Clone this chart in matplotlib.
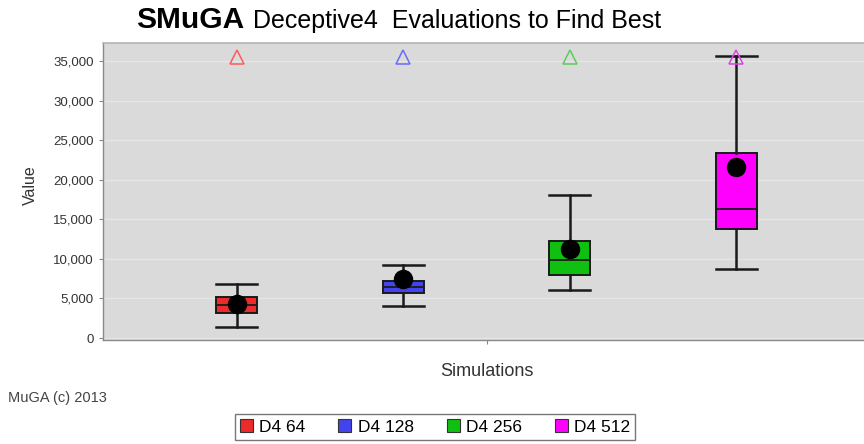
'''
SMuGA Deceptive4 - evaluations to find best, box and whisker chart
'''

import matplotlib
matplotlib.use("Agg")
import matplotlib.pyplot as plt
from matplotlib.patches import Patch
from matplotlib.ticker import FuncFormatter

plt.rcParams['font.family'] = ['Liberation Sans', 'DejaVu Sans']

# series
labels = ["D4 64", "D4 128", "D4 256", "D4 512"]
whislo = [1430, 4040, 6070, 8680]
q1 = [3200, 5650, 7920, 13730]
medians = [4170, 6410, 9860, 16340]
q3 = [5220, 7240, 12300, 23420]
whishi = [6820, 9220, 18030, 35630]
means = [4300, 7420, 11210, 21570]
far_out = [35450, 35450, 35450, 35450]

box_colors = ["#ee2a2a", "#4444ee", "#10c010", "#ff00ff"]
tri_colors = ["#ff5a5a", "#6a6aff", "#5acc5a", "#e040e0"]

fig = plt.figure(figsize=(8.64, 4.44), dpi=100)
ax = fig.add_axes([103 / 864, 104 / 444, 767 / 864, 297 / 444])
ax.set_facecolor("#dadada")

xs = list(range(len(labels)))
stats = []
for i in xs:
    stats.append(dict(label=labels[i], whislo=whislo[i], q1=q1[i], med=medians[i],
                      q3=q3[i], whishi=whishi[i], mean=means[i], fliers=[]))

bp = ax.bxp(stats, positions=xs, widths=0.245, patch_artist=True, showmeans=False,
            boxprops=dict(edgecolor="#1a1a1a", linewidth=1.4),
            medianprops=dict(color="#1a1a1a", linewidth=1.3),
            whiskerprops=dict(color="#1a1a1a", linewidth=1.8),
            capprops=dict(color="#1a1a1a", linewidth=1.8),
            capwidths=0.245, zorder=3)
for patch, c in zip(bp['boxes'], box_colors):
    patch.set_facecolor(c)

# means as black dots
ax.plot(xs, means, 'o', color="black", markersize=13, zorder=5, linestyle="none")

# far out markers
for i in xs:
    ax.plot(xs[i], far_out[i], '^', markersize=10, markerfacecolor="none",
            markeredgecolor=tri_colors[i], markeredgewidth=1.1, zorder=4)

ax.set_xlim(-0.804, 3.804)
ax.set_ylim(-250, 37270)
ax.set_yticks(range(0, 35001, 5000))
ax.yaxis.set_major_formatter(FuncFormatter(lambda v, p: "{:,}".format(int(v))))
ax.set_xticks([1.5])
ax.set_xticklabels([""])
ax.tick_params(axis='both', colors="#888888", labelcolor="#333333", labelsize=9.5,
               length=3, width=0.8)
ax.grid(axis='y', color="#e6e6e6", linewidth=0.9, zorder=0)
ax.set_axisbelow(True)

for side in ["top", "right"]:
    ax.spines[side].set_color("#b4b4b4")
    ax.spines[side].set_linewidth(1.2)
for side in ["left", "bottom"]:
    ax.spines[side].set_color("#8a8a8a")
    ax.spines[side].set_linewidth(1.0)

ax.set_ylabel("Value", fontsize=11.5, color="#333333")
ax.yaxis.set_label_coords(-0.085, 0.52)
ax.set_xlabel("Simulations", fontsize=13, color="#333333", labelpad=10)

# title in two parts
fig.text(136 / 864, 1 - 28 / 444, "SMuGA", fontsize=21.5, fontweight="bold",
         color="black", ha="left", va="baseline")
fig.text(253 / 864, 1 - 28 / 444, "Deceptive4  Evaluations to Find Best", fontsize=18,
         color="black", ha="left", va="baseline")

fig.text(8 / 864, 1 - 402 / 444, "MuGA (c) 2013", fontsize=10.5, color="#444444",
         ha="left", va="baseline")

handles = [Patch(facecolor=c, edgecolor="#333333", linewidth=0.8) for c in box_colors]
leg = fig.legend(handles, labels, loc="center", bbox_to_anchor=(435 / 864, 1 - 427 / 444),
                 ncol=4, fontsize=12.5, frameon=True, fancybox=False, handlelength=0.75,
                 handleheight=0.75, handletextpad=0.35, columnspacing=1.9,
                 borderpad=0.3, edgecolor="#555555")
leg.get_frame().set_linewidth(1.0)

fig.savefig("out.png", dpi=100)
